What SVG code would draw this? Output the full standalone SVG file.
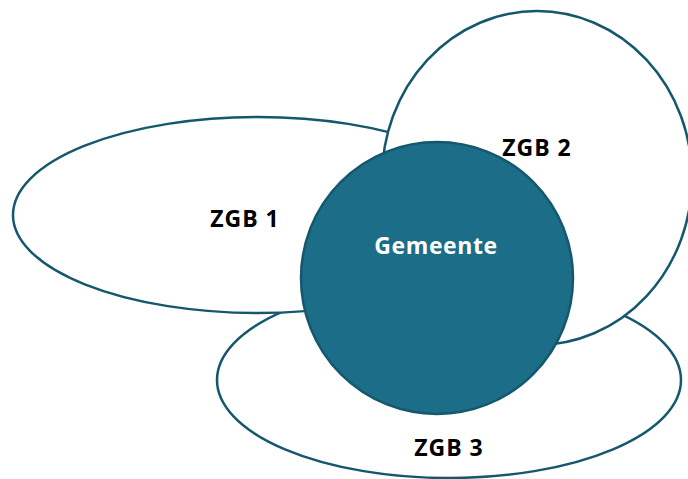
<svg xmlns="http://www.w3.org/2000/svg" width="688" height="479" viewBox="0 0 688 479">
  <style>
    .set { fill: #ffffff; stroke: #15586e; stroke-width: 2.5; }
    .core { fill: #1b6d88; stroke: #15586e; stroke-width: 2.5; }
    .lbl { font-family: "Open Sans", "Liberation Sans", sans-serif; font-weight: bold; font-size: 23px; letter-spacing: 1px; text-anchor: middle; fill: #000000; }
    .lblw { fill: #ffffff; font-size: 23px; letter-spacing: 0.6px; }
  </style>
  <rect width="688" height="479" fill="#ffffff"/>
  <g id="zgb3">
    <ellipse class="set" cx="449" cy="380" rx="232" ry="98"/>
    <text class="lbl" x="449" y="456">ZGB 3</text>
  </g>
  <g id="zgb1">
    <ellipse class="set" cx="258" cy="215" rx="245" ry="98"/>
    <text class="lbl" x="245" y="227">ZGB 1</text>
  </g>
  <g id="zgb2">
    <ellipse class="set" cx="537" cy="178" rx="155" ry="167"/>
    <text class="lbl" x="537" y="156">ZGB 2</text>
  </g>
  <g id="gemeente">
    <circle class="core" cx="437" cy="278" r="136"/>
    <text class="lbl lblw" x="436" y="254">Gemeente</text>
  </g>
  <g id="connectors"/>
</svg>
